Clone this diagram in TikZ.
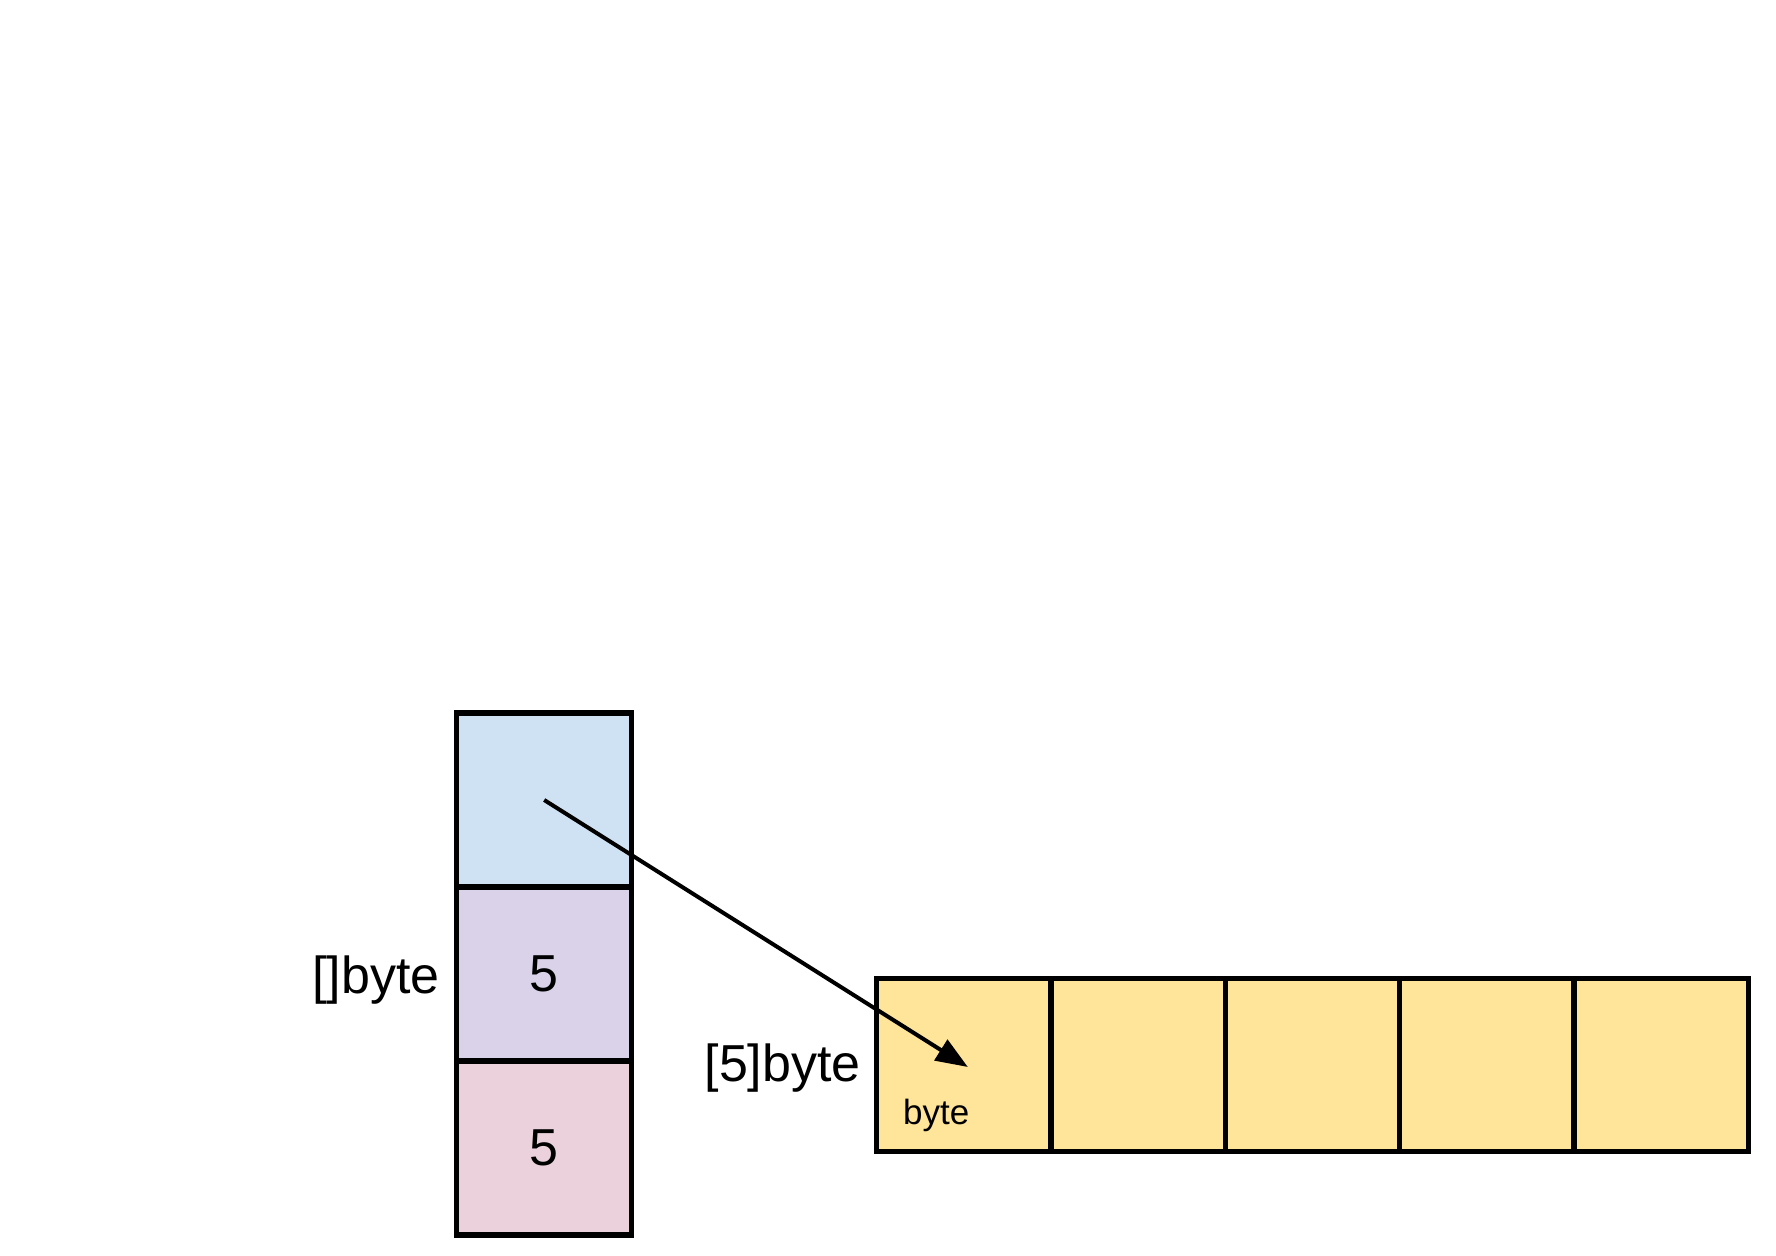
\documentclass[tikz,border=0pt]{standalone}
\usepackage{fontspec}
\setmainfont{Liberation Sans}
\usetikzlibrary{arrows.meta,positioning}

\definecolor{sliceblue}{RGB}{207,226,243}
\definecolor{slicepurple}{RGB}{217,210,233}
\definecolor{slicepink}{RGB}{234,209,220}
\definecolor{arrayyellow}{RGB}{255,229,153}

\tikzset{
  cell/.style={draw=black, line width=2.6pt, inner sep=0pt, minimum width=87.5pt, minimum height=87pt, font=\fontsize{26}{30}\selectfont},
  bytecell/.style={cell, fill=arrayyellow, minimum width=87.15pt, minimum height=86.7pt},
  typelabel/.style={inner sep=0pt, font=\fontsize{26}{30}\selectfont},
}

\begin{document}
\begin{tikzpicture}[x=0.5pt,y=0.5pt,yscale=-1,xscale=1]
\useasboundingbox (0,0) rectangle (1776,1256);

%Shape: Square (slice header)
\node [cell, fill=sliceblue] (ptr) at (544.2,800) {};
\node [cell, fill=slicepurple] (len) at (544.2,974) {5};
\node [cell, fill=slicepink] (cap) at (544.2,1148) {5};

%Shape: Square (backing array)
\foreach \i in {0,...,4}
  \node [bytecell] (b\i) at (963.85+174.3*\i,1065) {};

%Straight Lines
\coordinate (tip) at ([xshift=2pt,yshift=1pt]b0.center);
\draw [line width=2pt, -{Triangle[length=16pt,width=12pt]}] (ptr.center) -- (tip);

% Text Node
\node [typelabel, anchor=base east] (slicelbl) at ([xshift=-7pt,yshift=9.6pt]len.west) {[]byte};
% Text Node
\node [typelabel, anchor=base east] (arraylbl) at ([xshift=-6.5pt,yshift=8.35pt]b0.west) {[5]byte};
% Text Node
\node [inner sep=0pt, anchor=base west, font=\fontsize{17.5}{20}\selectfont] (elemlbl) at ([xshift=14.3pt,yshift=-15pt]b0.south west) {byte};

\end{tikzpicture}
\end{document}
